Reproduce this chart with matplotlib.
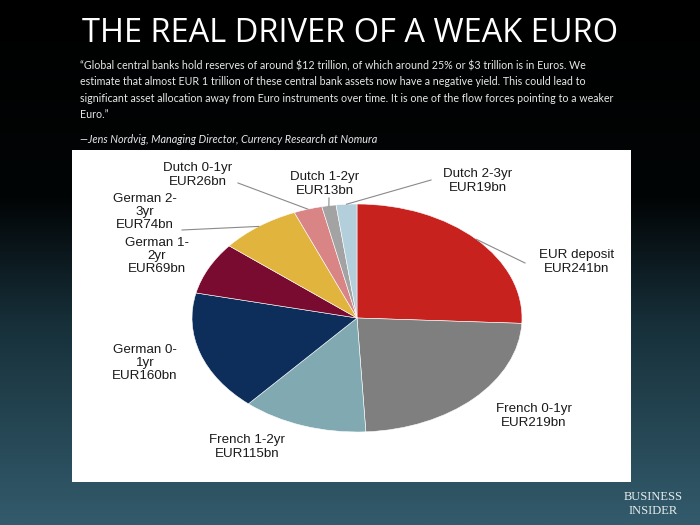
import numpy as np
import matplotlib
matplotlib.use('Agg')
import matplotlib.pyplot as plt
from matplotlib.colors import LinearSegmentedColormap

# data
labels = ['EUR deposit\nEUR241bn', 'French 0-1yr\nEUR219bn', 'French 1-2yr\nEUR115bn',
          'German 0-\n1yr\nEUR160bn', 'German 1-\n2yr\nEUR69bn', 'German 2-\n3yr\nEUR74bn',
          'Dutch 0-1yr\nEUR26bn', 'Dutch 1-2yr\nEUR13bn', 'Dutch 2-3yr\nEUR19bn']
values = [241, 219, 115, 160, 69, 74, 26, 13, 19]
colors = ['#c8221f', '#7f7f7f', '#80a9b1', '#0d2e5a', '#7a0b30',
          '#e1b43d', '#d98585', '#a3a3a3', '#b3cfdb']
# label centres in pixel (x, y from top), and whether a leader line is drawn
label_pos = [(577, 262), (534, 416), (247, 447), (145, 363), (157, 256),
             (145, 212), (198, 175), (325, 184), (478, 181)]
leader = [True, False, False, False, False, True, True, True, True]

title = 'THE REAL DRIVER OF A WEAK EURO'
quote = ('\u201cGlobal central banks hold reserves of around $12 trillion, of which around 25% or $3 trillion is in Euros. We\n'
         'estimate that almost EUR 1 trillion of these central bank assets now have a negative yield. This could lead to\n'
         'significant asset allocation away from Euro instruments over time. It is one of the flow forces pointing to a weaker\n'
         'Euro.\u201d')
source = '\u2014Jens Nordvig, Managing Director, Currency Research at Nomura'

W, H = 700, 525
fig = plt.figure(figsize=(7, 5.25), dpi=100)

# background gradient
bg = fig.add_axes([0, 0, 1, 1])
cmap = LinearSegmentedColormap.from_list('bg', [(0, '#000000'), (0.38, '#020506'),
                                                (0.62, '#17303a'), (1, '#335b6c')])
grad = np.linspace(0, 1, 256).reshape(-1, 1)
bg.imshow(grad, aspect='auto', cmap=cmap, extent=[0, 1, 0, 1], origin='upper')
bg.set_axis_off()

fig.text(0.5, 1 - 33 / H, title, color='white', fontsize=23.5, family='Open Sans',
         ha='center', va='center')
fig.text(80 / W, 1 - 60 / H, quote, color='#e8e8e8', fontsize=7.7, family='Lato',
         ha='left', va='top', linespacing=1.58, parse_math=False)
fig.text(80 / W, 1 - 140 / H, source, color='#e8e8e8', fontsize=7.8, family='Lato',
         style='italic', ha='left', va='center')
fig.text(653 / W, 1 - 497 / H, 'BUSINESS', color='#e6ecee', fontsize=9,
         family='Liberation Serif', ha='center', va='center')
fig.text(653 / W, 1 - 511 / H, 'INSIDER', color='#e6ecee', fontsize=9,
         family='Liberation Serif', ha='center', va='center')

# white panel with the pie, centre (357,318), radii 165 x 114 px
box_l, box_r, box_t, box_b = 72, 631, 150, 482
cx, cy, rx, ry = 357, 318, 165, 114
ax = fig.add_axes([box_l / W, 1 - box_b / H, (box_r - box_l) / W, (box_b - box_t) / H])

def px2d(px, py):
    return (px - cx) / rx, (cy - py) / ry

wedges, _ = ax.pie(values, colors=colors, startangle=90, counterclock=False,
                   wedgeprops=dict(edgecolor='white', linewidth=0.4))
ax.set_frame_on(True)
ax.set_facecolor('white')
ax.set_aspect('auto')
ax.set_xlim(px2d(box_l, 0)[0], px2d(box_r, 0)[0])
ax.set_ylim(px2d(0, box_b)[1], px2d(0, box_t)[1])
ax.set_xticks([])
ax.set_yticks([])
for s in ax.spines.values():
    s.set_visible(False)

lead_ends = {0: (525, 263), 5: (182, 230), 6: (238, 183), 7: (329, 198), 8: (431, 180)}
for i, w in enumerate(wedges):
    ang = np.deg2rad((w.theta1 + w.theta2) / 2)
    tx, ty = px2d(*label_pos[i])
    ax.text(tx, ty, labels[i], ha='center', va='center', fontsize=9.6,
            family='Liberation Sans', color='#1a1a1a', linespacing=1.12)
    if leader[i]:
        ex, ey = px2d(*lead_ends[i])
        ax.plot([np.cos(ang), ex], [np.sin(ang), ey], color='#8a8a8a', lw=0.8)

fig.savefig('out.png', dpi=100)
